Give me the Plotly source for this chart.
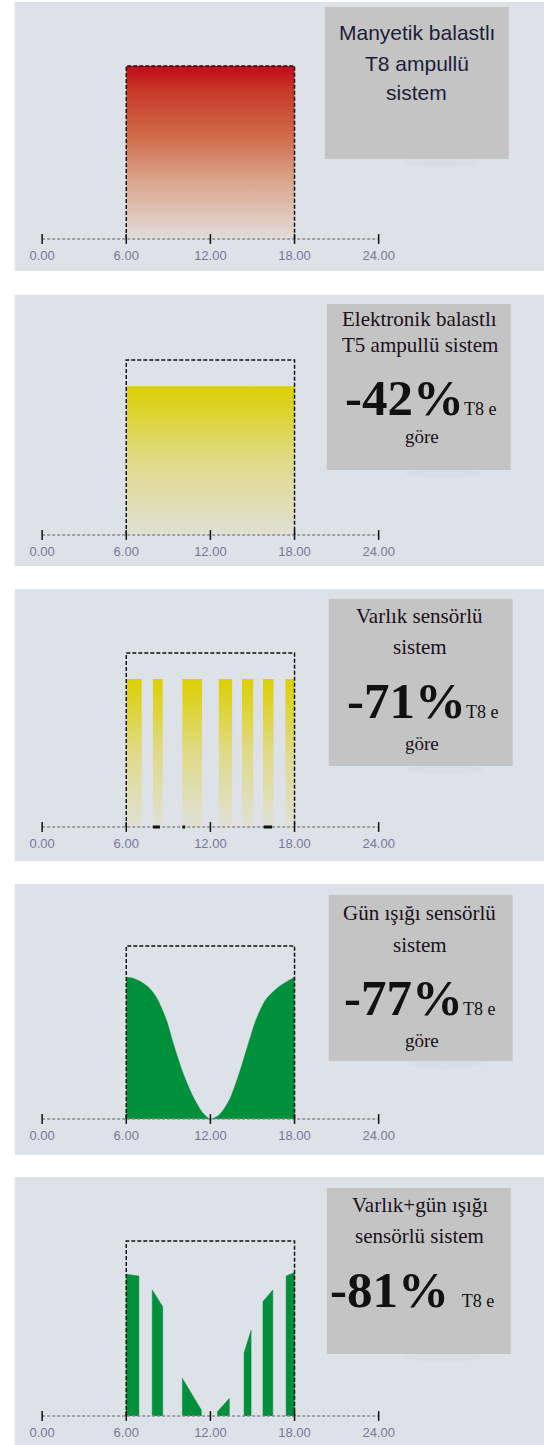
import plotly.graph_objects as go

W, H = 552, 1445

# ---------------- data ----------------
tick_vals = [0, 6, 12, 18, 24]
tick_labels = ["0.00", "6.00", "12.00", "18.00", "24.00"]
work_start, work_end = 6, 18

t8_level = 1.0
t5_level = 0.85

presence_start = [6.0, 7.9, 10.0, 12.6, 14.25, 15.75, 17.35]
presence_end = [7.1, 8.6, 11.4, 13.55, 15.05, 16.5, 18.0]
presence_level = 0.85
presence_marks_start = [7.9, 10.0, 15.8]
presence_marks_end = [8.4, 10.2, 16.4]

daylight_hours = [6.0, 6.4, 7.0, 7.6, 8.17, 8.87, 9.34, 10.05, 10.76, 11.46, 12.0, 12.64,
                  13.35, 14.06, 14.65, 15.24, 15.95, 16.89, 18.0]
daylight_level = [0.82, 0.815, 0.795, 0.76, 0.70, 0.57, 0.44, 0.265, 0.13, 0.035, 0.0, 0.025,
                  0.11, 0.265, 0.42, 0.57, 0.69, 0.765, 0.82]

combo_start = [6.0, 7.85, 10.0, 12.5, 14.4, 15.75, 17.4]
combo_end = [6.9, 8.6, 11.35, 13.35, 14.9, 16.45, 18.0]
combo_top_start = [0.81, 0.72, 0.215, 0.025, 0.36, 0.655, 0.80]
combo_top_end = [0.80, 0.625, 0.035, 0.10, 0.49, 0.72, 0.82]

titles = [
    ["Manyetik balastlı", "T8 ampullü", "sistem"],
    ["Elektronik balastlı", "T5 ampullü sistem"],
    ["Varlık sensörlü", "sistem"],
    ["Gün ışığı sensörlü", "sistem"],
    ["Varlık+gün ışığı", "sensörlü sistem"],
]
savings = [None, "-42%", "-71%", "-77%", "-81%"]

# ---------------- layout geometry (pixels) ----------------
panels = [
    dict(bg=(2, 271), axis=239, top=66, box=(328, 516, 7, 159)),
    dict(bg=(295, 566), axis=535, top=360, box=(330, 518, 304, 470)),
    dict(bg=(589, 861), axis=827, top=653, box=(332, 520, 599, 766)),
    dict(bg=(884, 1155), axis=1119, top=946, box=(332, 520, 895, 1061)),
    dict(bg=(1177, 1445), axis=1416, top=1241, box=(330, 518, 1188, 1354)),
]
X0PX, X24PX = 39, 383

def px(x):
    return x / W

def py(y):
    return 1 - y / H

RED = [[0, "#e2dcd9"], [0.32, "#dba890"], [0.6, "#d06a48"], [0.85, "#c83a28"], [1, "#c00a1a"]]
YEL = [[0, "#e0e0d6"], [0.5, "#e0da88"], [1, "#dcd000"]]
GREEN = "#008f3a"
BG = "#dde2e9"
BOXC = "#c4c4c4"

fig = go.Figure()
shapes = []
annotations = []
layout = {}

xpad = 0.6
ypad = 0.04
ppx = (X24PX - X0PX) / 24.0

for i, p in enumerate(panels):
    n = i + 1
    xa = "x" if n == 1 else f"x{n}"
    ya = "y" if n == 1 else f"y{n}"
    xk = "xaxis" if n == 1 else f"xaxis{n}"
    yk = "yaxis" if n == 1 else f"yaxis{n}"
    ppu = p["axis"] - p["top"]
    layout[xk] = dict(
        domain=[px(X0PX - xpad * ppx), px(X24PX + xpad * ppx)],
        range=[-xpad, 24 + xpad], anchor=ya,
        tickvals=tick_vals, ticktext=tick_labels, ticks="",
        showgrid=False, zeroline=False, showline=False,
        tickfont=dict(family="Liberation Sans, Arial", size=13, color="#76789a"),
        fixedrange=True,
    )
    layout[yk] = dict(
        domain=[py(p["axis"] + ypad * ppu), py(p["top"] - ypad * ppu)],
        range=[-ypad, 1 + ypad], anchor=xa, visible=False, fixedrange=True,
    )
    # panel background
    shapes.append(dict(type="rect", xref="paper", yref="paper", layer="below",
                       x0=px(11), x1=px(552), y0=py(p["bg"][1]), y1=py(p["bg"][0]),
                       fillcolor=BG, line=dict(width=0)))
    # gray label box + faint shadow
    bx0, bx1, by0, by1 = p["box"]
    shapes.append(dict(type="circle", xref="paper", yref="paper", layer="below",
                       x0=px(bx0 + 80), x1=px(bx1 - 30), y0=py(by1 + 8), y1=py(by1 - 2),
                       fillcolor="#d2d7de", opacity=0.35, line=dict(width=0)))
    shapes.append(dict(type="rect", xref="paper", yref="paper", layer="below",
                       x0=px(bx0), x1=px(bx1), y0=py(by1), y1=py(by0),
                       fillcolor=BOXC, line=dict(width=0)))

    # ---- data marks ----
    if n == 1:
        fig.add_trace(go.Scatter(
            x=[work_start, work_start, work_end, work_end], y=[0, t8_level, t8_level, 0],
            fill="toself", mode="none", xaxis=xa, yaxis=ya,
            fillgradient=dict(type="vertical", colorscale=RED, start=0, stop=t8_level)))
    elif n == 2:
        fig.add_trace(go.Scatter(
            x=[work_start, work_start, work_end, work_end], y=[0, t5_level, t5_level, 0],
            fill="toself", mode="none", xaxis=xa, yaxis=ya,
            fillgradient=dict(type="vertical", colorscale=YEL, start=0, stop=t5_level)))
    elif n == 3:
        for s, e in zip(presence_start, presence_end):
            fig.add_trace(go.Scatter(
                x=[s, s, e, e], y=[0, presence_level, presence_level, 0],
                fill="toself", mode="none", xaxis=xa, yaxis=ya,
                fillgradient=dict(type="vertical", colorscale=YEL, start=0, stop=presence_level)))
    elif n == 4:
        fig.add_trace(go.Scatter(
            x=daylight_hours, y=daylight_level,
            fill="tozeroy", fillcolor=GREEN, mode="lines",
            line=dict(color=GREEN, width=0.5, shape="spline", smoothing=0.8),
            xaxis=xa, yaxis=ya))
    else:
        for s, e, a, b in zip(combo_start, combo_end, combo_top_start, combo_top_end):
            fig.add_trace(go.Scatter(
                x=[s, s, e, e], y=[0, a, b, 0],
                fill="toself", fillcolor=GREEN, mode="lines",
                line=dict(color=GREEN, width=0.5), xaxis=xa, yaxis=ya))

    # dotted time axis
    fig.add_trace(go.Scatter(x=[tick_vals[0], tick_vals[-1]], y=[0, 0], mode="lines",
                             line=dict(color="#8a8a8a", width=1.5, dash="3px,2px"),
                             xaxis=xa, yaxis=ya, hoverinfo="skip"))
    # tick marks
    fig.add_trace(go.Scatter(x=tick_vals, y=[0] * len(tick_vals), mode="markers",
                             marker=dict(symbol="line-ns-open", size=7, color="#111111",
                                         line=dict(color="#111111", width=1.5)),
                             xaxis=xa, yaxis=ya, hoverinfo="skip", cliponaxis=False))
    if n == 3:
        for s, e in zip(presence_marks_start, presence_marks_end):
            fig.add_trace(go.Scatter(x=[s, e], y=[0, 0], mode="lines",
                                     line=dict(color="#111111", width=3),
                                     xaxis=xa, yaxis=ya, hoverinfo="skip"))
    # dashed working-hours frame
    fig.add_trace(go.Scatter(
        x=[work_start, work_start, work_end, work_end], y=[0, 1, 1, 0], mode="lines",
        line=dict(color="#111111", width=1.5, dash="4px,2px"),
        xaxis=xa, yaxis=ya, hoverinfo="skip"))

# ---------------- texts ----------------
def ann(text, x, y, size, family, color="#111111", xanchor="center"):
    annotations.append(dict(
        text=text, x=px(x), y=py(y),
        xref="paper", yref="paper", showarrow=False, xanchor=xanchor, yanchor="middle",
        font=dict(family=family, size=size, color=color)))

SANS = "Liberation Sans, Arial"
SERIF = "Liberation Serif, Times New Roman"

# panel 1 (sans)
for t, y in zip(titles[0], [32, 63, 93]):
    ann(t, 422, y, 21, SANS, color="#1c1c3c")

# serif panels
title_y = [[319, 345], [616, 647], [913, 945], [1205, 1236]]
big_y = [398, 701, 998, 1290]
big_cx = [426, 428, 425, 417]
sep = ["", "", "", " "]
gore_y = [437, 743, 1040, None]
for k in range(4):
    for t, y in zip(titles[k + 1], title_y[k]):
        ann(t, 425, y, 21, SERIF, color="#1a1020")
    txt = (f"<b>{savings[k + 1]}</b>{sep[k]}"
           f"<span style='font-size:18px'>T8 e</span>")
    ann(txt, big_cx[k], big_y[k], 51, SERIF)
    if gore_y[k] is not None:
        ann("göre", 427, gore_y[k], 19, SERIF, color="#1a1020")

fig.update_layout(
    width=W, height=H, margin=dict(l=0, r=0, t=0, b=0),
    paper_bgcolor="white", plot_bgcolor="rgba(0,0,0,0)",
    showlegend=False, shapes=shapes, annotations=annotations, **layout,
)

fig.write_html("out.html")
